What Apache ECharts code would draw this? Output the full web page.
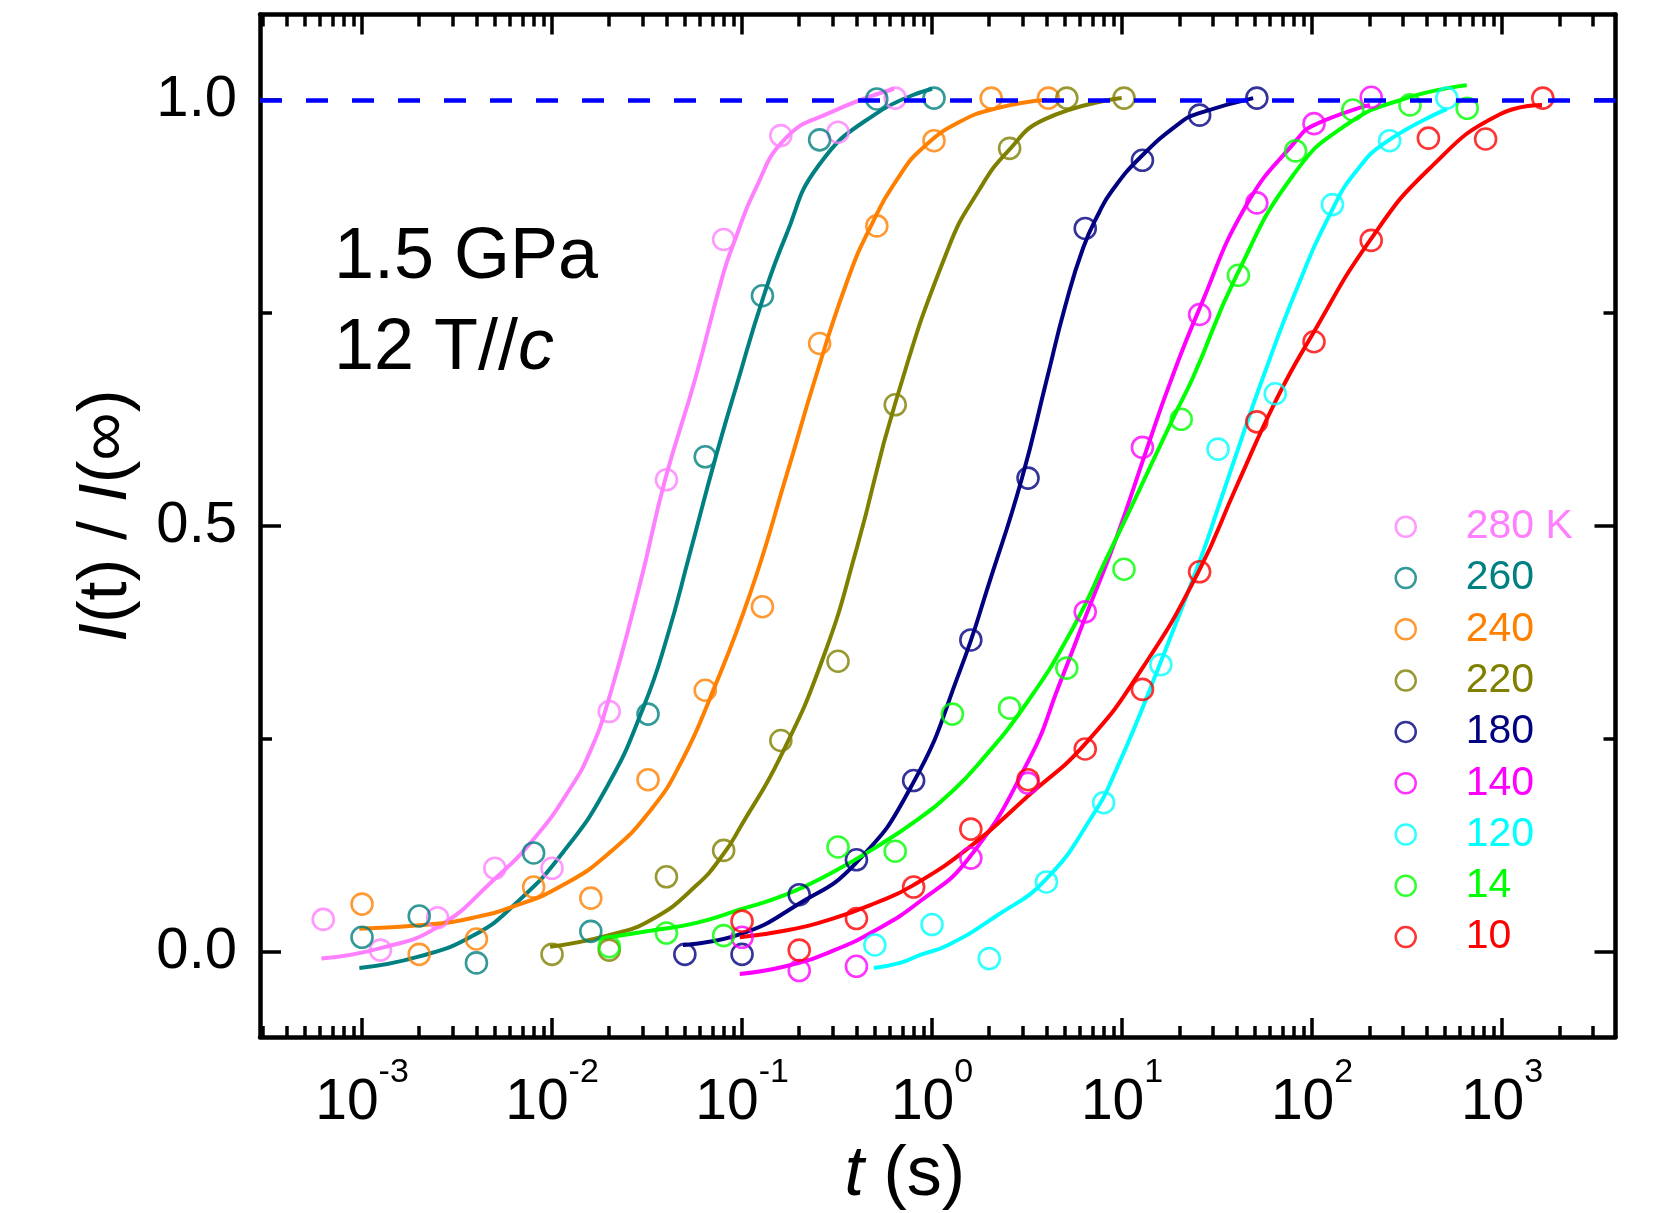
<!DOCTYPE html>
<html>
<head>
<meta charset="utf-8">
<script src="https://cdn.jsdelivr.net/npm/echarts@6/dist/echarts.min.js"></script>
<style>
  html, body { margin: 0; padding: 0; background: #fff; }
  #chart { width: 1655px; height: 1213px; }
</style>
</head>
<body>
<div id="chart"></div>
<script>
const FONT = '"Liberation Sans", Arial, Helvetica, sans-serif';

// frame limits: x in log10(t / s), y in I(t)/I(inf)
const X_MIN = -3.537, X_MAX = 3.597;
const Y_MIN = -0.1, Y_MAX = 1.1;

const decades = [-3, -2, -1, 0, 1, 2, 3];
const yMajor = [0, 0.5, 1.0];
const yMinor = [0.25, 0.75];

const names = ['280 K', '260', '240', '220', '180', '140', '120', '14', '10'];
const colors = ['#ff80ff', '#008080', '#ff8000', '#808000', '#000080', '#ff00ff', '#00ffff', '#00ff00', '#ff0000'];

// measured points: t in seconds, normalized intensity
const t280 = [0.000625, 0.00125, 0.0025, 0.005, 0.01, 0.02, 0.04, 0.08, 0.16, 0.32, 0.64];
const v280 = [0.038, 0.002, 0.040, 0.098, 0.098, 0.282, 0.554, 0.836, 0.958, 0.962, 1.002];
const t260 = [0.001, 0.002, 0.004, 0.008, 0.016, 0.032, 0.064, 0.128, 0.256, 0.512, 1.024];
const v260 = [0.017, 0.042, -0.013, 0.116, 0.024, 0.279, 0.581, 0.770, 0.953, 1.001, 1.002];
const t240 = [0.001, 0.002, 0.004, 0.008, 0.016, 0.032, 0.064, 0.128, 0.256, 0.512, 1.024, 2.048, 4.096];
const v240 = [0.056, -0.003, 0.015, 0.076, 0.063, 0.202, 0.307, 0.405, 0.714, 0.852, 0.952, 1.002, 1.002];
const t220 = [0.01, 0.02, 0.04, 0.08, 0.16, 0.32, 0.64, 2.56, 5.12, 10.24];
const v220 = [-0.003, 0.002, 0.088, 0.119, 0.248, 0.341, 0.642, 0.943, 1.002, 1.002];
const t180 = [0.05, 0.1, 0.2, 0.4, 0.8, 1.6, 3.2, 6.4, 12.8, 25.6, 51.2];
const v180 = [-0.003, -0.003, 0.067, 0.108, 0.201, 0.366, 0.556, 0.849, 0.929, 0.982, 1.002];
const t140 = [0.1, 0.2, 0.4, 1.6, 3.2, 6.4, 12.8, 25.6, 51.2, 102.4, 204.8];
const v140 = [0.017, -0.022, -0.017, 0.110, 0.198, 0.399, 0.592, 0.748, 0.879, 0.972, 1.003];
const t120 = [0.5, 1, 2, 4, 8, 16, 32, 64, 128, 256, 512];
const v120 = [0.008, 0.032, -0.008, 0.082, 0.175, 0.337, 0.590, 0.655, 0.877, 0.952, 1.002];
const t14 = [0.02, 0.04, 0.08, 0.32, 0.64, 1.28, 2.56, 5.12, 10.24, 20.48, 40.96, 81.92, 163.84, 327.68, 655.36];
const v14 = [0.006, 0.022, 0.019, 0.123, 0.118, 0.279, 0.286, 0.333, 0.449, 0.625, 0.794, 0.940, 0.988, 0.994, 0.990];
const t10 = [0.1, 0.2, 0.4, 0.8, 1.6, 3.2, 6.4, 12.8, 25.6, 51.2, 102.4, 204.8, 409.6, 819.2, 1638.4];
const v10 = [0.036, 0.002, 0.039, 0.076, 0.144, 0.202, 0.238, 0.308, 0.446, 0.622, 0.716, 0.835, 0.955, 0.954, 1.002];

// fit curves: [log10(t), value]
const fit280 = [[-3.214, -0.008], [-2.908, 0.004], [-2.603, 0.029], [-2.309, 0.084], [-2.086, 0.135], [-1.898, 0.194],
  [-1.8, 0.235], [-1.71, 0.29], [-1.537, 0.432], [-1.405, 0.554], [-1.247, 0.672], [-1.1, 0.795], [-1.038, 0.835],
  [-0.934, 0.893], [-0.77, 0.955], [-0.537, 0.985], [-0.2, 1.013]];
const fit260 = [[-3.014, -0.019], [-2.708, -0.006], [-2.415, 0.019], [-2.18, 0.059], [-1.945, 0.116], [-1.71, 0.194],
  [-1.519, 0.287], [-1.396, 0.368], [-1.274, 0.468], [-1.142, 0.578], [-1.019, 0.672], [-0.893, 0.765], [-0.77, 0.84],
  [-0.6, 0.922], [-0.3, 0.983], [0.0, 1.013]];
const fit240 = [[-3.014, 0.027], [-2.65, 0.032], [-2.415, 0.04], [-2.18, 0.055], [-1.945, 0.078], [-1.71, 0.114],
  [-1.475, 0.168], [-1.317, 0.224], [-1.168, 0.298], [-0.958, 0.42], [-0.765, 0.56], [-0.616, 0.672], [-0.45, 0.785],
  [-0.326, 0.85], [-0.168, 0.912], [-0.042, 0.945], [0.136, 0.973], [0.338, 0.99], [0.604, 1.0]];
const fit220 = [[-2.01, 0.006], [-1.71, 0.019], [-1.475, 0.038], [-1.24, 0.078], [-1.097, 0.115], [-1.005, 0.148],
  [-0.8, 0.228], [-0.572, 0.346], [-0.396, 0.474], [-0.195, 0.643], [0.084, 0.825], [0.25, 0.895], [0.401, 0.94],
  [0.592, 0.977], [0.998, 1.002]];
const fit180 = [[-1.311, 0.008], [-1.005, 0.021], [-0.711, 0.055], [-0.406, 0.103], [-0.1, 0.198], [0.147, 0.33],
  [0.305, 0.436], [0.472, 0.555], [0.604, 0.672], [0.7, 0.757], [0.795, 0.826], [0.88, 0.868], [0.946, 0.893],
  [1.094, 0.932], [1.305, 0.973], [1.402, 0.984], [1.69, 1.002]];
const fit140 = [[-1.012, -0.026], [-0.77, -0.017], [-0.535, 0.0], [-0.3, 0.025], [-0.065, 0.059], [0.194, 0.11],
  [0.507, 0.224], [0.674, 0.316], [0.814, 0.397], [0.972, 0.487], [1.13, 0.59], [1.253, 0.668], [1.402, 0.752],
  [1.656, 0.877], [1.919, 0.953], [2.007, 0.97], [2.305, 0.994]];
const fit120 = [[-0.307, -0.019], [-0.168, -0.013], [-0.065, -0.004], [0.085, 0.008], [0.338, 0.042], [0.599, 0.085],
  [0.845, 0.16], [0.972, 0.215], [1.2, 0.338], [1.411, 0.46], [1.504, 0.52], [1.63, 0.603], [1.735, 0.67],
  [1.919, 0.778], [2.104, 0.87], [2.235, 0.917], [2.393, 0.951], [2.709, 0.989]];
const fit14 = [[-1.757, 0.015], [-1.475, 0.025], [-1.24, 0.034], [-1.005, 0.05], [-0.77, 0.067], [-0.535, 0.092],
  [-0.3, 0.122], [-0.065, 0.157], [0.095, 0.186], [0.235, 0.218], [0.498, 0.292], [0.744, 0.381], [0.919, 0.462],
  [1.095, 0.544], [1.27, 0.627], [1.375, 0.675], [1.603, 0.794], [1.902, 0.912], [2.183, 0.971], [2.498, 1.002],
  [2.814, 1.017]];
const fit10 = [[-1.012, 0.017], [-0.77, 0.025], [-0.535, 0.038], [-0.3, 0.057], [-0.1, 0.078], [0.204, 0.124],
  [0.505, 0.183], [0.806, 0.244], [1.107, 0.333], [1.402, 0.446], [1.6, 0.545], [1.814, 0.649],
  [1.998, 0.723], [2.305, 0.835], [2.621, 0.92], [2.989, 0.983], [3.21, 0.994]];

const times = [t280, t260, t240, t220, t180, t140, t120, t14, t10];
const values = [v280, v260, v240, v220, v180, v140, v120, v14, v10];
const fits = [fit280, fit260, fit240, fit220, fit180, fit140, fit120, fit14, fit10];

// minor ticks at 2..9 x 10^n
const minorX = [];
for (let n = -4; n <= 3; n++) {
  for (let k = 2; k <= 9; k++) {
    const v = n + Math.log10(k);
    if (v > X_MIN && v < X_MAX) minorX.push(v);
  }
}

const frameLine = { show: true, onZero: false, lineStyle: { color: '#000', width: 4.5 } };
const noLine = { show: false, onZero: false };
const tickStyle = (vals, len) => ({ show: true, inside: true, length: len, customValues: vals, lineStyle: { color: '#000', width: 3.5 } });

function xAxis(position, ticks, len, withLine, extra) {
  return Object.assign({
    type: 'value', position, min: X_MIN, max: X_MAX,
    axisLine: withLine ? frameLine : noLine,
    axisTick: tickStyle(ticks, len),
    axisLabel: { show: false },
    splitLine: { show: false },
  }, extra || {});
}
function yAxis(position, ticks, len, withLine, extra) {
  return Object.assign({
    type: 'value', position, min: Y_MIN, max: Y_MAX,
    axisLine: withLine ? frameLine : noLine,
    axisTick: tickStyle(ticks, len),
    axisLabel: { show: false },
    splitLine: { show: false },
  }, extra || {});
}

const series = [];
names.forEach((name, i) => {
  series.push({
    name: name + ' fit', type: 'line', data: fits[i], smooth: 0.5,
    symbol: 'none', silent: true, z: 2,
    lineStyle: { color: colors[i], width: 4 },
  });
  series.push({
    name, type: 'scatter', silent: true, z: 3,
    data: times[i].map((t, j) => [Math.log10(t), values[i][j]]),
    symbol: 'circle', symbolSize: 21,
    itemStyle: { color: 'rgba(0,0,0,0)', borderColor: colors[i], borderWidth: 2.6 },
  });
});
series[0].markLine = {
  silent: true, symbol: 'none', label: { show: false }, animation: false,
  lineStyle: { color: '#0000ff', width: 4.5, type: [22, 24] },
  data: [{ yAxis: 1 }],
};

const chart = echarts.init(document.getElementById('chart'), null, { renderer: 'canvas' });
chart.setOption({
  animation: false,
  backgroundColor: '#fff',
  grid: { left: 260, right: 39.5, top: 14.6, bottom: 176, containLabel: false, outerBoundsMode: 'none' },
  xAxis: [
    xAxis('bottom', decades, 19, true, {
      axisLabel: {
        show: true, customValues: decades, margin: 19,
        formatter: (v) => '{b|10}{e|' + v + '}',
        rich: {
          b: { fontSize: 57, fontFamily: FONT, color: '#000', lineHeight: 76, verticalAlign: 'bottom' },
          e: { fontSize: 34, fontFamily: FONT, color: '#000', lineHeight: 20, verticalAlign: 'top' },
        },
      },
      name: '{i|t}{n| (s)}', nameLocation: 'middle', nameGap: 104, nameMoveOverlap: false,
      nameTextStyle: {
        padding: [0, 66, 0, 0],
        rich: {
          i: { fontSize: 70, fontFamily: FONT, fontStyle: 'italic', color: '#000' },
          n: { fontSize: 70, fontFamily: FONT, color: '#000' },
        },
      },
    }),
    xAxis('bottom', minorX, 11, false),
    xAxis('top', decades, 20, true),
    xAxis('top', minorX, 12, false),
  ],
  yAxis: [
    yAxis('left', yMajor, 21, true, {
      axisLabel: {
        show: true, customValues: yMajor, margin: 23,
        formatter: (v) => v.toFixed(1),
        fontSize: 58, fontFamily: FONT, color: '#000',
      },
      name: '{i|I}{n|(t) / }{i|I}{n|(∞)}', nameLocation: 'middle', nameGap: 119, nameMoveOverlap: false,
      nameTextStyle: {
        padding: [0, 0, 0, 20],
        rich: {
          i: { fontSize: 68, fontFamily: FONT, fontStyle: 'italic', color: '#000' },
          n: { fontSize: 68, fontFamily: FONT, color: '#000' },
        },
      },
    }),
    yAxis('left', yMinor, 12, false),
    yAxis('right', yMajor, 21, true),
    yAxis('right', yMinor, 12, false),
  ],
  legend: {
    orient: 'vertical', left: 1394.5, top: 504.7, padding: 0,
    icon: 'circle', itemWidth: 20, itemHeight: 20, itemGap: 7.3,
    selectedMode: false,
    textStyle: { fontSize: 41, fontFamily: FONT, lineHeight: 44, padding: [0, 0, 0, 45] },
    data: names.map((n, i) => ({
      name: n,
      textStyle: { color: colors[i] },
      itemStyle: { color: 'rgba(0,0,0,0)', borderColor: colors[i], borderWidth: 2.5 },
    })),
  },
  graphic: [
    {
      type: 'text', left: 334, top: 222,
      style: { text: '1.5 GPa', font: '72px ' + FONT, fill: '#000' },
    },
    {
      type: 'text', left: 334, top: 313,
      style: {
        text: '{n|12 T//}{i|c}', fill: '#000',
        rich: {
          n: { fontSize: 72, fontFamily: FONT, fill: '#000' },
          i: { fontSize: 72, fontFamily: FONT, fontStyle: 'italic', fill: '#000' },
        },
      },
    },
  ],
  series,
});
window.addEventListener('resize', () => chart.resize());
</script>
</body>
</html>
